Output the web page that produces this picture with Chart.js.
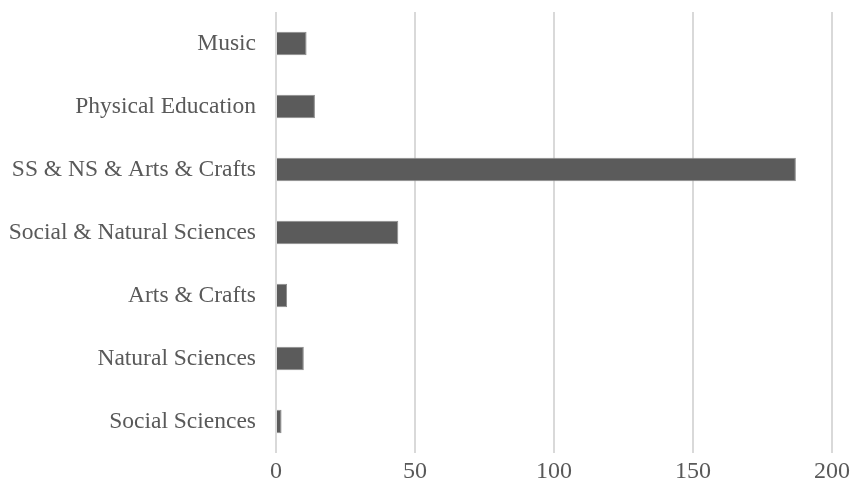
<!DOCTYPE html>
<html>
<head>
<meta charset="utf-8">
<script src="https://cdn.jsdelivr.net/npm/chart.js@4"></script>
<style>
  html, body { margin: 0; padding: 0; background: #fff; }
  #wrap { width: 851px; height: 487px; }
</style>
</head>
<body>
<div id="wrap"><canvas id="chart"></canvas></div>
<script>
var categories = ['Music', 'Physical Education', 'SS & NS & Arts & Crafts', 'Social & Natural Sciences', 'Arts & Crafts', 'Natural Sciences', 'Social Sciences'];
var counts = [11, 14, 187, 44, 4, 10, 2];
var xTicks = [0, 50, 100, 150, 200];

var ctx = document.getElementById('chart');
var myChart = new Chart(ctx, {
    type: 'bar',
    data: {
        labels: categories,
        datasets: [{
            data: counts,
            backgroundColor: '#5b5b5b',
            borderColor: '#8a8a8a',
            borderWidth: 1,
            categoryPercentage: 1,
            barPercentage: 0.37
        }]
    },
    options: {
        indexAxis: 'y',
        responsive: true,
        maintainAspectRatio: false,
        animation: false,
        layout: { padding: { left: 0, right: 19, top: 12, bottom: 0 } },
        plugins: { legend: { display: false }, tooltip: { enabled: false } },
        scales: {
            x: {
                min: xTicks[0],
                max: xTicks[xTicks.length - 1],
                afterBuildTicks: function (scale) {
                    scale.ticks = xTicks.map(function (v) { return { value: v }; });
                },
                afterFit: function (scale) {
                    scale.height = 34;
                    scale.paddingLeft = 0;
                    scale.paddingRight = 0;
                },
                grid: { color: '#d9d9d9', lineWidth: 2, drawTicks: false },
                border: { display: false },
                ticks: {
                    padding: 4,
                    color: '#595959',
                    font: { family: 'Liberation Serif', size: 24 }
                }
            },
            y: {
                afterFit: function (scale) {
                    scale.width = 276;
                    scale.paddingTop = 0;
                    scale.paddingBottom = 0;
                },
                grid: { display: false, drawTicks: false },
                border: { display: false },
                ticks: {
                    padding: 20,
                    color: '#595959',
                    font: { family: 'Liberation Serif', size: 23.5 }
                }
            }
        }
    }
});
</script>
</body>
</html>
